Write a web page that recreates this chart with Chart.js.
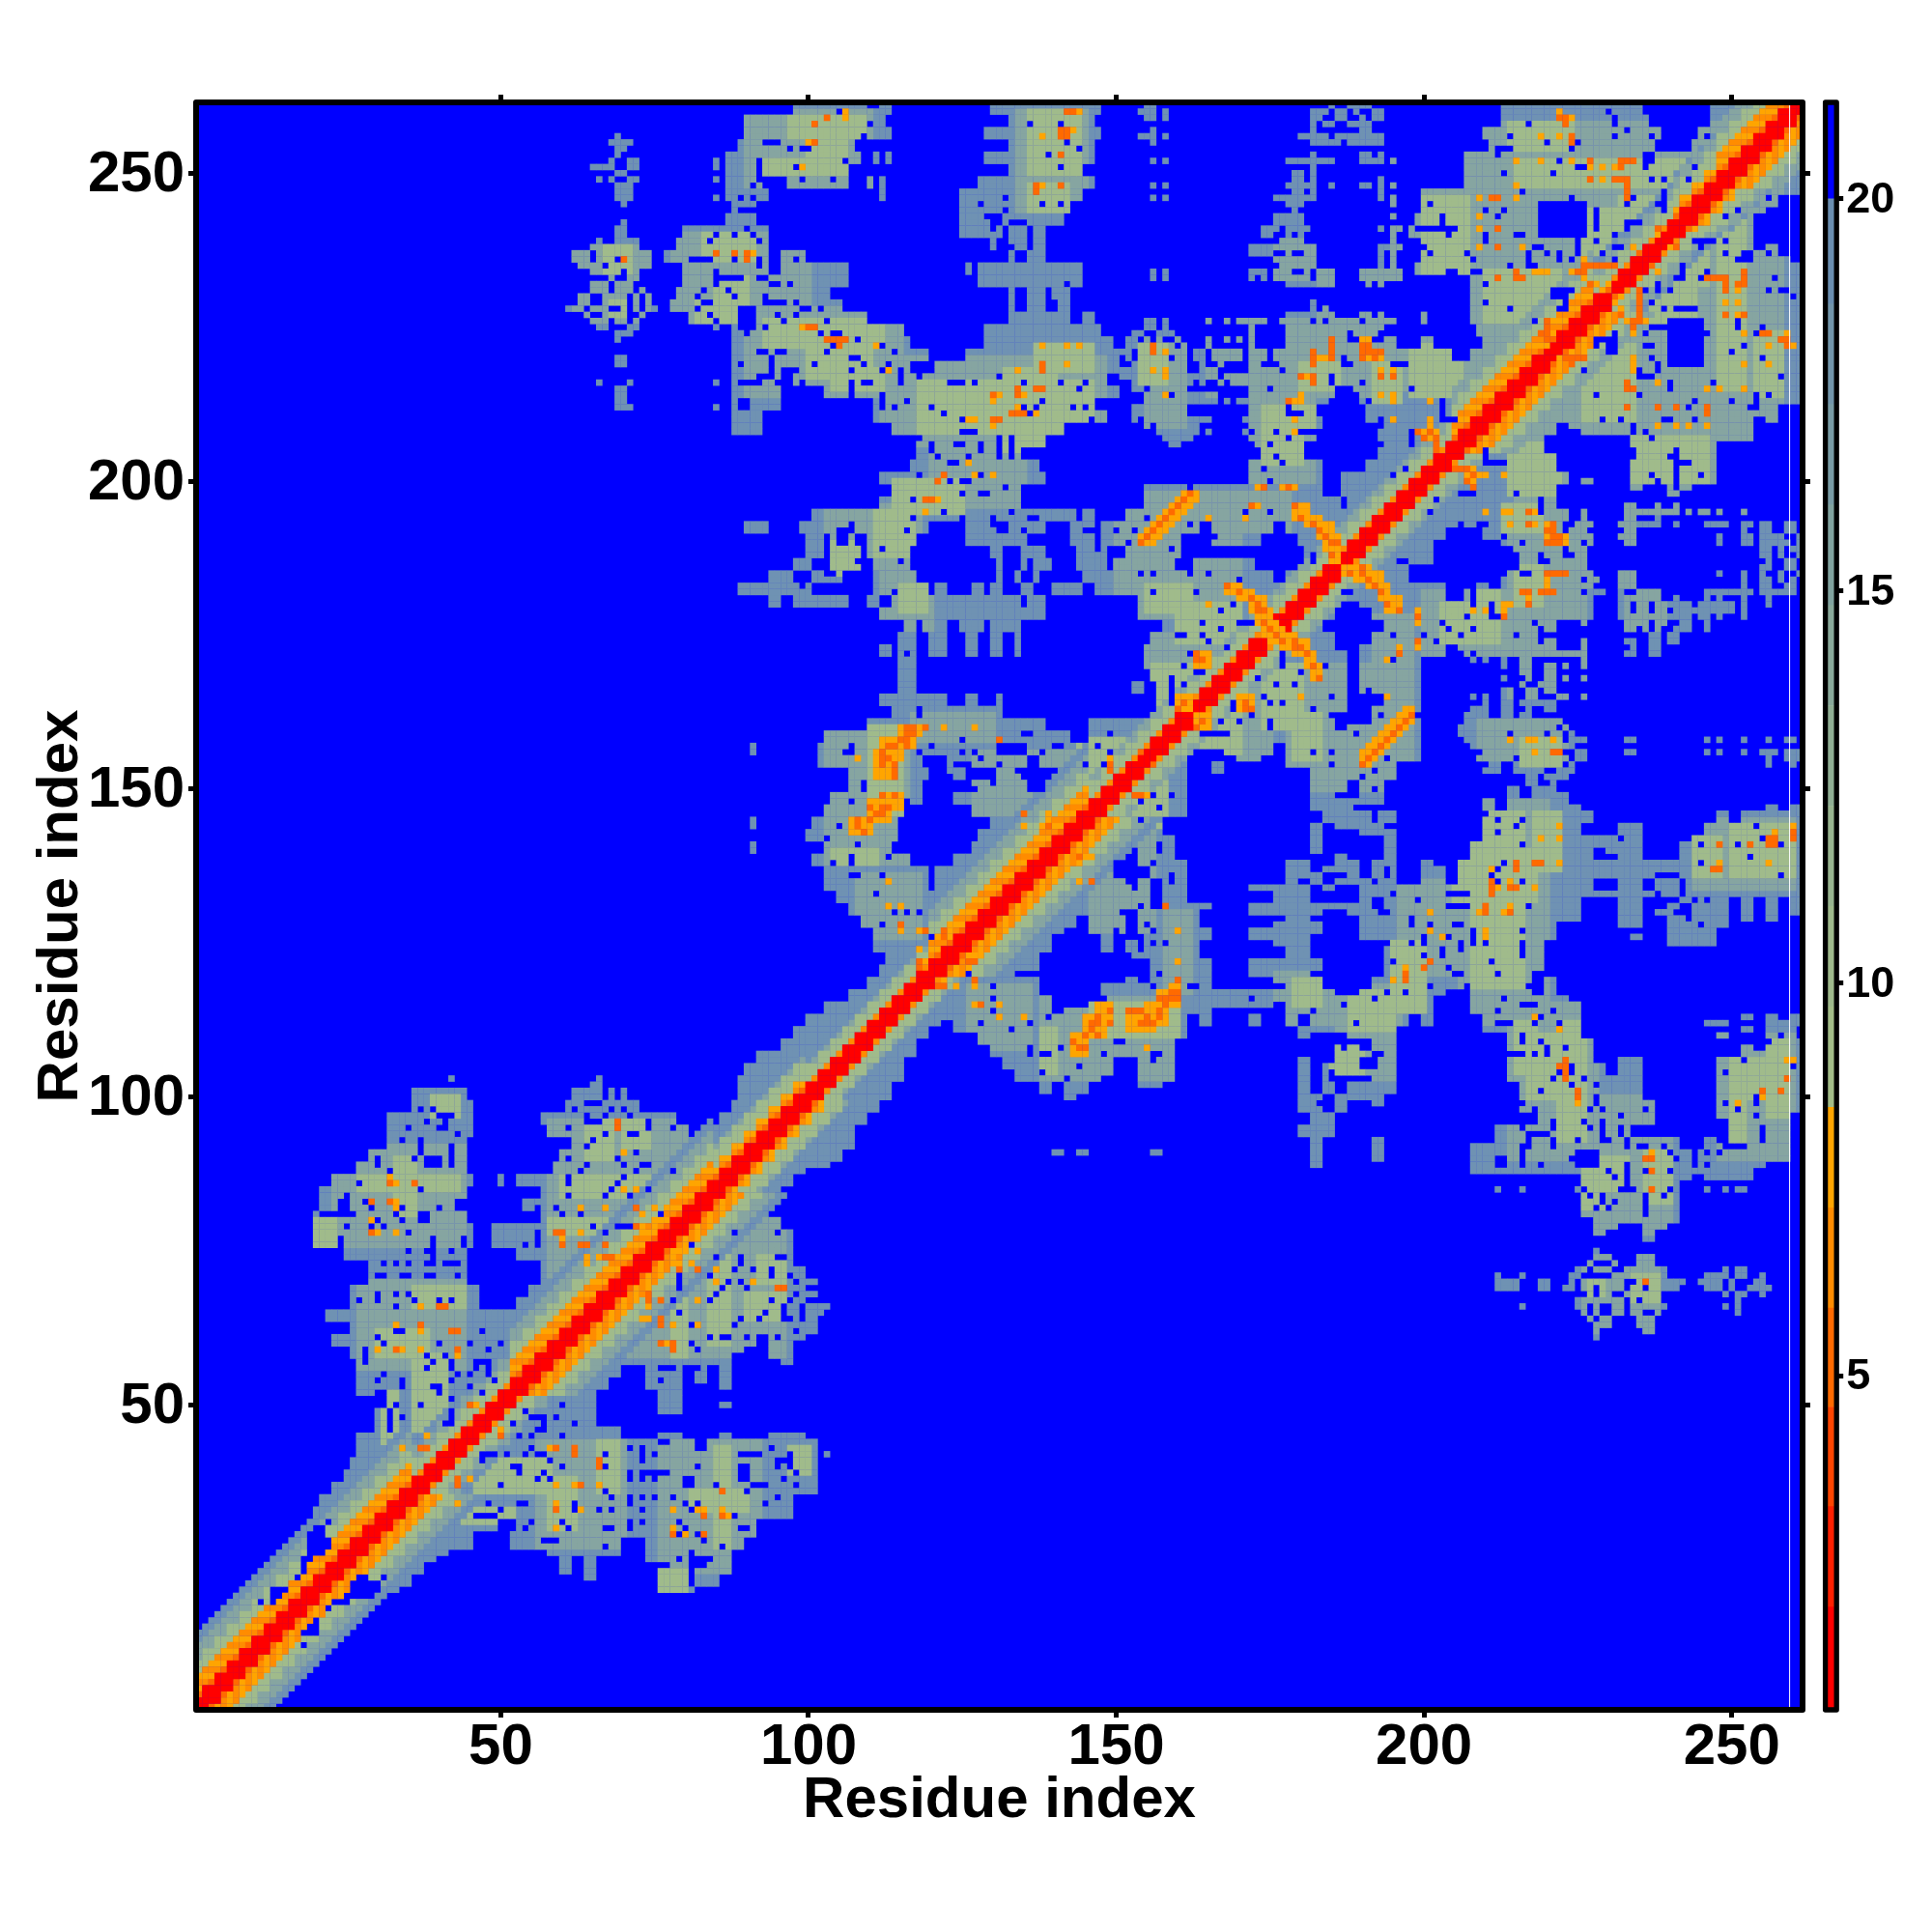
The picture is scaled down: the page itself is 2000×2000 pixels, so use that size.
<!DOCTYPE html>
<html><head><meta charset="utf-8">
<script src="https://cdn.jsdelivr.net/npm/chart.js@4"></script>
<style>html,body{margin:0;padding:0;background:#fff}canvas{position:absolute;top:0}</style>
</head><body>
<canvas id="main" width="2000" height="2000" style="left:0"></canvas>
<canvas id="bar" width="140" height="2000" style="left:1860px"></canvas>
<script>
const axisTitle = 'Residue index';
const xTickValues = [50,100,150,200,250];
const yTickValues = [50,100,150,200,250];
const barTickValues = [5,10,15,20];
const residueMin = 0.5, residueMax = 261.5;
const whiteLineX = [259.4];

// distance classes, 0 is "no contact" (blue)
const levelColors = ['#0000FF','#6F92B3','#86A5A1','#A0BB8B','#FFA500','#FF8C00','#FF6A00','#FF4500','#FF2000','#FF0000'];

// colour bar steps [low, high, colour]
const barLow  = [0.74,2.05,3.33,4.6,5.86,7.14,8.42,9.7,10.98,12.26,13.54,14.82,16.1,17.38,18.66,20];
const barHigh = [2.05,3.33,4.6,5.86,7.14,8.42,9.7,10.98,12.26,13.54,14.82,16.1,17.38,18.66,20,21.23];
const barColors = ['#FF0000','#FF2000','#FF4500','#FF6A00','#FF8C00','#FFA500','#A3BD88','#9EB98B','#98B48F','#90AF94','#89A99A','#81A39F','#799CA5','#7295AA','#6A8EB0','#0000FF'];

// contacts read per row: "y x1-x2 ..." (row covers y and y+1, upper-left half)
const contactRows = [
'260 98-113 130-132 133-147 213-231 232-235 247-261',
'258 90-112 133-146 213-230 232-236 247-259',
'256 90-113 129-147 210-238 245-257',
'254 89-107 133-146 211-237 244-255',
'252 87-108 111 113 129-146 207-235 238-253',
'250 87-106 133-144 207-251',
'248 87-92 97-106 110 112 128-146 207-249',
'246 87-93 112 125-144 200-247',
'244 88-91 125-142 200-245',
'242 87-91 125-129 132-141 199-243',
'240 80-93 125-127 128-129 130-131 133-138 198-241',
'238 79-93 130 133-138 200-239',
'236 77-99 133 136-138 200-237',
'234 80-106 126 128-144 199-235',
'232 80-106 128-144 208-233',
'230 79-103 133 136-138 140-142 208-231',
'228 78-105 133 136-138 141-142 208-229',
'226 81-109 133-142 145-146 200 208-227',
'224 88-115 129-147 209-225',
'222 88-116 129-149 200-201 210-223',
'220 88-119 126-150 198-204 208-221',
'218 88-116 121-150 198-218',
'216 88-95 98-120 121-148 198-216',
'214 88-95 103-150 198-214',
'212 88 91-95 111-146 198-212',
'210 88-92 111-148 198-210',
'208 88-92 114-141 198-208',
'206 118-138 198-206',
'204 118-134 174-180 193-204',
'202 117-137 172-183 191-202',
'200 112-138 172-183 187-200',
'198 114-134 155-183 187-198',
'196 112-134 155-186 188-196',
'194 101-143 145-146 152-194',
'192 90-93 99-106 108-119 126-130 133-138 143-153 154-163 166-175 178-192',
'190 100-102 104-107 110-117 126-135 143-160 166-173 180-190',
'188 100-102 104-108 110-116 130-131 135-138 144-148 152-160 181-188',
'186 98-100 104-108 111-116 131 135 137-139 144-148 150-159 163-172 181-186',
'184 94-97 101-105 111-117 131 134 137 145-175 178-184',
'182 89-100 111-119 121-122 127-128 130-131 135-136 140-142 143-144 147-151 152-182',
'180 94-95 98-106 110-111 114-124 125-134 136-138 154-180',
'178 112-124 125-135 136-138 154-178',
'176 116-119 120-122 125-128 130-134 158-176',
'174 115-117 120-122 126-127 130-131 134 156-174',
'172 112-113 115-117 120-122 126-127 130-131 134 155-172',
'170 115-117 155-170','168 115-117 156-168','166 115-117 153-154 157-166',
'164 112-122 126-127 131 157-164','162 114-117 119-131 157-162',
'160 110-138 146-160','158 103-142 146-158','156 91 102-106 108-130 136-156',
'154 102-118 123-129 130-135 138-154','152 107-119 123-125 130-134 144-152',
'150 107-108 110-118 127-150','148 104-118 124-148','146 103-115 127-146',
'144 91 101-114 130-144','142 100-114 128-142','140 91 103-113 127-140',
'138 101-116 124-138','136 103-119 121-136','134 103-119 121-134','132 105-120 121-132',
'130 107-130','128 109-128','126 111-126','124 111-124','122 113-122','120 112-120',
'118 110-118','116 107-116','114 103-114','112 100-112','110 98-110','108 96-108',
'106 92-106','104 90-104','102 89-102',
'100 36-44 62-66 68 70 89-100','98 36-45 61-72 88-98','96 32-45 57-78 86-96','94 32-45 58-80 85-94',
'92 32-44 62-92','90 29-44 60-90','88 27-44 59-88','86 23-45 50 53-86','84 21-44 57-84',
'82 21-23 26-42 54-82','80 20-44 57-80','78 20-45 49-78','76 20-23 25-43 45 49-76','74 25-44 53-74',
'72 29-44 57-72','70 29-44 57-70','68 26-46 55-68','66 26-46 53-66','64 22-64','62 26-62','60 23-60',
'58 26-58','56 27-56','54 27-54','52 27-52','50 30-50','48 30-48','46 30-46','44 27-44','42 27-42',
'40 26-40','38 25-38','36 23-36','34 21-34','32 20-32'
];
// single rows read at full resolution
const fineRows = [
'261 155-156 185 188-191','260 154-156 158 182-184 186-187 189 192-193','259 155-156 158 182-183 186-187 190 192-193',
'258 182 184-185 188-191','257 156 182 190-191','256 154-156 158 180-184 186-193 69','255 156 182-186 188-193 68-71',
'254 69-70','253 182 190-191 193 69','252 156 158 178-185 190-193 195 68 71-72 85','251 182 65-68 71-72 85',
'250 179-180 182 69-70','249 179-180 182 193 66 68 71-72 85','248 156 158 178-182 185 190-191 193 195 69-71',
'247 179-180 182 193 69-71','246 156 158 176-182 193 195 69-71 85','245 178-180 195 70','244 179','243 176-180 195',
'242 176-180 70','241 174-176 178-181 193 195-196 198 69-70','240 174-175 178 180 195 69-70','239 177-180 195 66 69-72',
'238 172-182 193-196 65-72','237 172-175 178 181-182 193 195 62-64 66-74','236 176-182 193 195 62-64 66-68 70-74',
'235 177-182 193 195 63-66 68-74','234 156 158 172-174 176-178 181 183-185 190-196 65-69 71-72',
'233 156 158 172 174 176-181 183-185 190-196 68 71-72','232 178-185 191 193 65-67 69-71','231 65-67 69-71 73',
'230 63-64 67-70 72 74','229 182 63-64 67-70 72 74','228 182 184 61-63 65-67 70 72 74-75',
'227 178-185 190-191 193 64 67-70 73','226 155-156 158 165 168 170-174 177-181 183 185-189 191-195 200 65-67 69-70 72',
'225 155-156 158 172 178-193 66-67 71-72 85','224 153-154 157-159 172 178-187 189-192 69-71',
'223 152-153 155 157 160 165 168 170 172 178-184 186-187 190-191 194-195 69','222 149 152-159 161 165 172 178-195',
'221 149-152 154-161 163-164 166-170 172-174 176-197','220 152 154-158 160-161 163-164 166-170 172-174 176-186 188-197 69-70',
'219 153-161 164 167 172-173 177-186 189-194 69-70','218 151-161 164-166 172-176 178-197','217 151-166 168-184 186-197',
'216 153-162 164 167 169-184 186-189 191-197 66 71 85','215 153-154 156-161 172-174 176-185 189-197 69-70',
'214 155-158 160-166 172-185 190-197 69-70','213 155-166 168 170-177 179-184 190 192-197 69-70',
'212 153-161 172-177 179-182 191-197 69-71 85','211 153-161 172-177 181-182 191-197','210 153 155-165 171-178 180-183 191-192 194-197',
'209 155 157-163 172-183 194-197','208 157-163 165 171 173-179 193-197','207 158-162 172-177 179-182 193-197','206 159-160 173-180 194-197',
'103 42 66','102 65-66','101 64-66'
];

// rectangles of the middle and the greenest class: x1,x2,y1,y2
const midRects = ['23,44,76,92','27,44,56,70','58,84,60,96','90,110,248,260','134,145,244,260','62,74,226,238','78,100,226,240',
'90,115,214,228','112,148,206,220','120,135,196,210','103,118,186,196','112,120,176,186','103,116,138,160','150,170,178,198',
'195,258,215,258','165,196,214,226','172,182,200,214','155,175,160,175','117,130,158,162','127,148,146,156','108,118,126,136','152,178,192,198','183,195,226,234','155,161,209,223','176,182,233,239'];
const coreRects = ['19,23,76,80','39,43,97,100','27,43,85,87','33,36,81,90','36,44,66,69','30,38,58,62','36,41,46,58','31,33,40,52',
'60,76,84,87','64,68,90,96','70,74,92,96','58,72,78,80','62,72,70,74','97,109,256,259','100,106,250,256','92,100,250,252',
'136,144,250,260','136,142,244,248','67,71,234,238','68,71,227,229','83,91,236,240','85,90,230,233','82,90,226,229',
'93,112,222,226','100,110,217,222','104,112,215,218','118,146,208,216','132,140,205,218','137,146,218,222','114,125,195,200',
'111,117,188,195','103,108,185,190','115,119,179,183','110,115,146,160','104,111,138,140','155,162,179,183','200,207,233,246',
'210,222,226,234','228,244,226,232','215,250,248,252','232,244,236,246','198,206,214,222','174,180,203,212','160,170,174,180',
'156,164,162,170','144,154,146,158','214,224,254,258','154,158,216,222','180,186,215,219','178,182,208,212','192,196,213,219'];

// diagonal stretches: first, last, profile, reach
const bandStart = [1,36,52,85,100,120,146,205,228,241,248];
const bandEnd   = [36,52,85,100,120,146,205,228,241,248,262];
const bandKind  = ['W','N','W','M','N','W','N','W','N','M','W'];
const bandReach = [12,8,12,7,5,12,6,10,8,9,12];
const profileEven = {W:[9,9,9,5,4,5,3,3,3,2,2,1,1], M:[9,9,9,5,4,3,3,3,2,2], N:[9,9,9,3,3,3,2,2,1]};
const profileOdd  = {W:[9,9,6,4,5,4,3,3,2,2,2,1,1], M:[9,9,6,4,3,3,3,2,2,1], N:[9,9,5,3,3,2,2,1,1]};

// blue cells inside the contact areas: "x,y", ranges allowed
const holeCells = ('37,98 39,98 40-42,97 41,96 38,96 40-41,95 35,95 43,94 34,93 37,91-93 42,89-92 36,90 38-40,89-90 30,89-90 32,88 27,86 37,85 25,83-84 28,83 29,82 34,82 40,82 43,82 21-24,81 25-26,81 33,81 34,80 37-38,80-81 30,80 29,79 31,79 25,79 35,78 39,75-77 35,75 42,75 38,75 38-39,73 35,73 33,73 31,73 41-43,73 30-31,71 34-35,71 38-39,71 43,71 30,67-68 33,68 35,68 36,67 40,67 42,67 33,66 27,67 33-34,62 30,61 31,60 40,60 45,60 50,60 48,59 28,57-59 38,58 41,58 39,57 42,56-57 46-48,57 48,55-56 45,55 43,55 38,56 53,56-57 52,56 31,55 30,54 34,53-54 42,54 39-40,53 40,52 45,53 49-51,54 49-50,53 30-31,50-52 47-48,51-52 42,51 33,50 37,50 32,46-49 34,48 42,47-49 41,47 '
+'56-57,53 53,50 51-52,47-49 55-56,48 59,48 62,47 56,46 53,45 55,45 60,45 55,43 47-49,42 51,42 54,42 56,42 58,41 52-53,40 57,39 60,40 67,42 73,41 75,42 67,40 71,38-39 74-77,39 56,38 58,38 50,37 67,36 '
+'64-66,99 62,98 68,98 70,98 64,97 67,97 71,97 64-66,96 61,95 74,95-96 78,95 67,94 71-72,94 65,93 64,92 72,91 59,90 61,90 69,90 64,89 70,89 73-74,89 63,88 70,87 72,88 78,88 61,86-87 69,86 68,85 74,85 61,84 67,84 71,84 59,82 56,82 60,81 63,81 76,81 65,79 69-71,79 67,78 71,75 56,76-78 54,76 '
+'105,260 110-111,261 110,258 109,256 111,255 93-95,255 97,254 99-100,254 106,252 98,251 92,249-252 99,249 91,248 95,248 104,249 89,246 91,246 89-91,244 136,258 141,258 142,255 144,254 139,253 141,251 132,246 128,245 138,245 141,245 132,244 129,243 130,241-242 133-135,242 136,238-241 133,238 142,232 '
+'84,239 85,240 88,240 90,241 91,240 92,239 92,235-236 94-95,234-237 98,236 88,236 85,233-234 86-89,233 92-93,233 94-95,232 97,232 85,232 87,231 82,230 83,229 88,230 93,229-230 94-96,229 98,229 89-91,228 99-100,228 102,228 82,228 84,227 85,226 89-91,225-227 96,226 95,227 98,227 103,226 '
+'81-84,236 85,234 83,231 84,229 93,225 '
+'90,224 102,224 104,222 104-105,224 108,223 112,222 114,221 103,221 92-93,221 95-96,221 107-108,220 89,219 94,218-220 101,219 109,219 113,219 107,218 112,218 115,216-218 96-98,218 92,217 93-94,217 89-92,216 95-96,216 99,216 107,214-216 109-110,216 118,217 123-125,216 127,216 131,217 135,216 141,216 145,216 '
+'120,212 122,211 112,212-214 114,212 116,213 113,209 125,210 136,211 137,212 135,212 138,213 144,215 143,212 145,212 146,210 125-127,208 118,207 120,205-206 124-125,206 128,205-206 131,204-207 133,204-207 121,204 126,204 123-124,203 118,201 123,200 125-126,200 128,201 132,199 125,198 129,198 117,197 122,195 117,194 125,194 130,194 133,195 136,194 130,193 '
+'117,197 125,198 128,198 122,195 117,194 125,194 130,194 133,195 132,193 136-137,194 116,192 135,192 112,189 115,187 105-106,190-192 108,187 103-104,185 101-103,183 99,183 114,182 118,174-177 119,172-174 116,172 '
+'145-146,192 147,189-194 149,187 150,192 153,192 152,190 155,194 157,194 159,189 162,199 162,193 166,191 171,195 175,195 179,194 182,187-188 154,185 156,185 162,185 165,185 170,184 156,182 163,182 169,180 167,179 164,177 160-161,175 164,175 167,176 170-171,177 172,177 162,172 161,170 165,174 168,173 163-165,169 159,164-168 161,167 167,161 '
+'149,159 147,157 149,155-156 145,154 148,154 143,158 140-141,157 135-136,159 132,157 125,158 118,159 118,156 120,157 125,156 127,156 134,157 138,156 128,155 124-126,154 131,154 134,153 136-138,150-153 130,151-153 123,152 126,151 127,150 122,150 112,157 106,156 116,148 107,148 103,142 105,144 108,141 107,138-139 113,139 104,138 107,136 108,136 112,136 111,133 114,130 116,130 118,130 112,128 120,126 '
+'217,258 230,260 233,257 220,255 224,255 214,256 231,256 237,256 246,256 224,254 212-214,254 212,253 222,252 225-226,251 236,251 237,252 213,250 221,250 237,249 243,249 239,249 216,247 239,245-247 224,246 234,246 201,245 213,244 210,244 238,245 251,244 256,246 228,241-244 203,241-243 201-205,241 199-200,241 204,240 212,243 249,243 233-235,242 233,241 210,239-240 215-216,240 231,240 236,240 244-246,239 225,237-238 231-232,238 218-219,238 217,235-237 222,237 220,237 207,237 200,238 229,237 245,238 249,237 252,237 231,236 240,236 214,235 218,235 222,236 242,235 201,237 208,236 204-205,234 208-209,234 241,233 238,231-232 236,231 240,231 245,233 256,231 257,233 210,232 210,229 221-224,231 221-223,230 226,230 214,228 223,228 224,228 237,229 239,228 241-244,228 229,226 218,226 227,224 228,222 229-230,223 237-239,225 236,224 231,224 237,222 251,226 255,225 254,224 252,222 '
+'176,208 178,207 175,206 176,204 177,203 174,202 175,200 198,206-208 195,201 197,202 203,210-213 204-206,210 207,210 198,215 '
+'20,30 19,29 19-22,26-28 23,26 19,25 18,23-24 17,22 14-16,20 11,18 13,17-19 14,18 12,16 26,23 31,22 30,21 26,20 27-29,19-21 25,19 23-25,18 22,17 19-20,13-16 17,13 19,13 16,12 18,11 2,6 5,2 5,1 219-226,240-245').split(' ');

// thick hot ridges, painted first: "x1-x2,y1-y2"
const hotRidges = ('154-156,190-191 155-157,191-192 156-158,192-193 157-159,193-194 158-160,194-195 159-161,195-196 160-162,196-197 161-163,197-198 179-181,194-196 181-183,193-194 183-185,191-193 184-186,189-191 185-186,187-189 168-170,182-183 170-172,181-182 172-174,179-181 173-175,177-179 174-176,175-177 163-165,170-172 160-162,163-165 115-118,159-160 112-115,155-158 111-114,153-155 112-115,147-149 110-112,145-147 107-110,143-145 157-159,115-117 152-156,111-114 145-148,110-113 143-145,108-110 171-172,163-165').split(' ');
// hot cells, two classes
const hotOrange = ('106,260 106,259 144,260 100,255 99,251 143,257 138,256 138,248 141,248 91,237 99,225 111,222 113,218 138,222 142,222 144,222 134,218 142,219 135,214 131,214 130,213 134,212 137,211 127,210 126,210 130,209 126,203 127,201 130,201 121,197 119,195 156,218 158,221 158,217-218 158,214 156,193 '
+'173,199 177,199 179,199 173,196 122,160 127,160 131,158 139,146 138,144 135,144 108,155 113,135 113,131 115,131 115,127 118,127 118,124 119,122 123,127 155,108 160,127 160,122 146,135 144,135 145,139 155,149 156,154 180,165 165,194 171,194 '
+'32,87 33,86 33,83 33,82 29,80 30,78 33,78 70,91 70,85 72,85 63,82 67,82 73,81 75,82 73,79 75,79 60,78 60,76 63,78 64,76 64,74 67,74 37,66 41,66 33,63 37,62 30,59 34,59 37,59 43,58 34,43 38,43 38,45 46,50 50,45 58,43 66,40 59,37 62,37 66,37 43,37 45,38 74,66 76,63 73,64 77,60 '
+'222,260 223,259 224,259 219,256 222,256 224,255 215,252 219,252 224,252 227,251 229,251 231,251 227,249 229,249 233,247 215,248 209,246 215,246 209,243 209,241 209,238 216,238 226,233 228,235 230,235 224,234 219,234 220,234 212,233 228,232 229,231 235,229 236,226 234,224 248,233 249,231 251,232 249,229 251,229 251,227 252,224 259,224 259,222 256,222 252,219 256,219 252,215 246,215 248,215 234,215 234,218 238,216 238,212 241,212 238,209 241,209 243,209 246,209 '
+'191,220 193,220 183-184,220 190-191,223 193,218 195,217 180,217 181,217 193,214 195,213 195,214 180,214 178-180,213 179,210 179,208 195,210 201,213 201,210 201,209 199-202,208 200-202,207 202,206 207,201 213,201 222,190 220,193 213,195 218,195 210,195 214,193 218,193 220,224 225,220 222,220 232,230 238,240 234,238 237,235 189,186').split(' ');
const hotDeep = ('142,260 143,260 101,258 103,259 101,255 141,257 142,257 141,256 142,256 141,253 137,247 137,248 141,248 70,236 85,237 88,237 90,236 90,237 100,225 101,225 103,223 104,223 105,223 106,223 105,222 138,218 138,219 134,214 134,215 137,215 138,215 130,214 133,211 134,211 135,211 130,210 131,210 122,201 121,200 119,197 120,197 156,221-222 '
+'154,190 155,191 156,192 157,193 158,194 159,195 160,196 161,197 162,198 178,199 172,196 179,196 180,194 182,193 183,192 184,191 185,190 186,190 185,188 168,183 170,182 172,181 173,180 173,179 174,179 174,177 175,176 163,172 163,171 164,171 161,164 160,163 154,156 149,154 149,153 116,160 117,160 116,159 117,159 115,158 113,157 114,157 112,155 113,155 112,154 114,154 112,149 114,149 110,147 112,147 111,146 108,145 108,144 135,146 139,144 115,128 119,127 118,122 118,121 122,127 122,126 160,119 157,116 158,116 159,116 152,114 153,114 156,112 147,113 146,112 145,110 143,109 158,131 144,139 171,164 172,163 171,163 '
+'32,86 36,86 29,83 32,83 29,78 59,78 63,76 67,76 68,74 69,96 69,95 72,82 72,79 40,66 37,63 42,62 43,62 33,59 43,59 37,43 45,50 62,43 62,42 66,41 63,37 43,38 74,67 76,64 76,60 78,60 '
+'222,259 223,258 224,256 227,252 232,252 233,252 232,251 231,249 232,249 233,249 233,248 233,246 211,246 212,246 212,241 212,238 226,235 226,234 225,234 227,235 229,235 231,235 215,234 215,233 216,233 227,232 235,230 235,228 234,226 235,226 247,233 249,233 249,232 252,234 252,233 249,227 255,224 259,223 233,216 233,215 233,212 241,212 246,212 246,211 '
+'182,220-221 185,220-223 190-193,221 190,222 191,222 193,217 180,217 182,217 182,216 182,219 178,213 201,208 205,202 206,202 207,202 208,201 207,200 208,199 174,199 220,192 221,191 221,190 220,190 217,195 217,193 188,185 190,185 220,225 219,224 220,226 224,220 223,220 231,230 227,232 238,241 237,235 220,185 222,185').split(' ');

// ---- matrix assembled from the lists above ----
const N = 261;
const grid = Array.from({length:N+2},()=>new Int8Array(N+2));
function paint(a,b,level){ if(a>=1&&b>=1&&a<=N&&b<=N){grid[a][b]=level;grid[b][a]=level;} }
function span(t){const p=t.split('-').map(Number);return p.length>1?p:[p[0],p[0]];}
function paintCells(list,level,guard){list.forEach(h=>{if(!h)return;const [sx,sy]=h.split(',');const [a,b]=span(sx),[c,d]=span(sy);
  for(let x=a;x<=b;x++)for(let y=c;y<=d;y++) if(!guard||guard(x,y)) paint(x,y,level);});}
contactRows.forEach(r=>{const p=r.split(' ');const y=+p[0];
  p.slice(1).forEach(s=>{const [a,b]=span(s);for(let x=a;x<=b;x++){paint(x,y,1);paint(x,y+1,1);}});});
fineRows.forEach(r=>{const p=r.split(' ');const y=+p[0];
  p.slice(1).forEach(s=>{const [a,b]=span(s);for(let x=a;x<=b;x++)paint(x,y,1);});});
function rects(list,level){list.forEach(r=>{const [a,b,c,d]=r.split(',').map(Number);
  for(let x=a;x<=b;x++)for(let y=c;y<=d;y++) if(grid[x][y]) paint(x,y,level);});}
rects(midRects,2); rects(coreRects,3);
bandStart.forEach((s,k)=>{for(let i=s;i<bandEnd[k];i++){
  const prof=(i%2?profileOdd:profileEven)[bandKind[k]];
  for(let d=0;d<=bandReach[k]&&d<prof.length;d++) paint(i,i+d,prof[d]);}});
paintCells(holeCells,0,(x,y)=>Math.abs(x-y)>4);
paintCells(hotRidges,4);
paintCells(hotOrange,4);
paintCells(hotDeep,6);
const cellsByLevel = levelColors.map(()=>[]);
for(let x=1;x<=N;x++)for(let y=1;y<=N;y++) if(grid[x][y]) cellsByLevel[grid[x][y]].push({x:x,y:y});

// ---- chart ----
const FONT='"Liberation Sans", Arial, sans-serif';
const framePlugin={id:'frame',
  beforeDatasetsDraw(c){const a=c.chartArea,g=c.ctx;g.save();g.fillStyle=c.options.plugins.frame.fill;
    g.fillRect(a.left,a.top,a.width,a.height);g.restore();},
  afterDraw(c){const a=c.chartArea,g=c.ctx;g.save();g.lineWidth=c.options.plugins.frame.width;g.lineJoin='round';g.strokeStyle='#000';
    g.strokeRect(a.left,a.top,a.width,a.height);g.restore();}};
const gridOpts={display:true,drawOnChartArea:false,drawTicks:true,tickLength:8,tickWidth:5,tickColor:'#000'};
function fixed(size){return s=>{if(s.isHorizontal())s.height=size;else s.width=size;};}
function setTicks(v){return s=>{s.ticks=v.map(t=>({value:t}));};}
// a blank first line with a tiny line height nudges the digits just below the tick
const nudged=v=>['',String(v)];
const datasets=levelColors.map((col,i)=>({type:'scatter',label:'d'+i,data:cellsByLevel[i],pointStyle:'rect',
   pointRadius:4.73,pointHoverRadius:4.73,borderWidth:0,pointBorderWidth:0,backgroundColor:col,pointBackgroundColor:col,showLine:false,order:10-i})).slice(1);
datasets.push({type:'line',label:'edge',data:[{x:whiteLineX[0],y:residueMin},{x:whiteLineX[0],y:residueMax}],borderColor:'#fff',borderWidth:1,pointRadius:0,order:0});
new Chart(document.getElementById('main'),{type:'scatter',data:{datasets},plugins:[framePlugin],
 options:{responsive:false,animation:false,devicePixelRatio:1,events:[],
  layout:{padding:{left:33,right:114,top:86,bottom:106}},
  plugins:{legend:{display:false},tooltip:{enabled:false},frame:{fill:levelColors[0],width:6}},
  scales:{
   x:{type:'linear',position:'bottom',min:residueMin,max:residueMax,grid:gridOpts,border:{display:false},
      afterBuildTicks:setTicks(xTickValues),afterFit:fixed(124),
      ticks:{font:{family:FONT,size:60,weight:'bold'},color:'#000',padding:-5,maxRotation:0,autoSkip:false},
      title:{display:true,text:axisTitle,color:'#000',font:{family:FONT,size:60,weight:'bold',lineHeight:1},padding:0}},
   y:{type:'linear',position:'left',min:residueMin,max:residueMax,grid:gridOpts,border:{display:false},
      afterBuildTicks:setTicks(yTickValues),afterFit:fixed(170),
      ticks:{font:{family:FONT,size:60,weight:'bold',lineHeight:4/60},color:'#000',padding:4,autoSkip:false,callback:nudged},
      title:{display:true,text:axisTitle,color:'#000',font:{family:FONT,size:60,weight:'bold',lineHeight:1},padding:0}},
   x2:{type:'linear',axis:'x',position:'top',min:residueMin,max:residueMax,grid:gridOpts,border:{display:false},
      afterBuildTicks:setTicks(xTickValues),afterFit:fixed(20),ticks:{display:false}},
   y2:{type:'linear',axis:'y',position:'right',min:residueMin,max:residueMax,grid:gridOpts,border:{display:false},
      afterBuildTicks:setTicks(yTickValues),afterFit:fixed(20),ticks:{display:false}}
  }}});

new Chart(document.getElementById('bar'),{type:'bar',
 data:{labels:['d'],datasets:barColors.map((c,i)=>({data:[[barLow[i],barHigh[i]]],backgroundColor:c,borderWidth:0,barPercentage:1,categoryPercentage:1,grouped:false}))},
 plugins:[framePlugin],
 options:{responsive:false,animation:false,devicePixelRatio:1,events:[],
  layout:{padding:{left:29.6,right:0,top:106,bottom:230}},
  plugins:{legend:{display:false},tooltip:{enabled:false},frame:{fill:'#fff',width:5.3}},
  scales:{
   x:{display:false},
   y:{type:'linear',position:'right',min:barLow[0],max:barHigh[barHigh.length-1],grid:{...gridOpts,tickLength:7},border:{display:false},
      afterBuildTicks:setTicks(barTickValues),afterFit:fixed(98.8),
      ticks:{font:{family:FONT,size:45,weight:'bold',lineHeight:4/45},color:'#000',padding:3,autoSkip:false,callback:nudged}}
  }}});
</script>
</body></html>
